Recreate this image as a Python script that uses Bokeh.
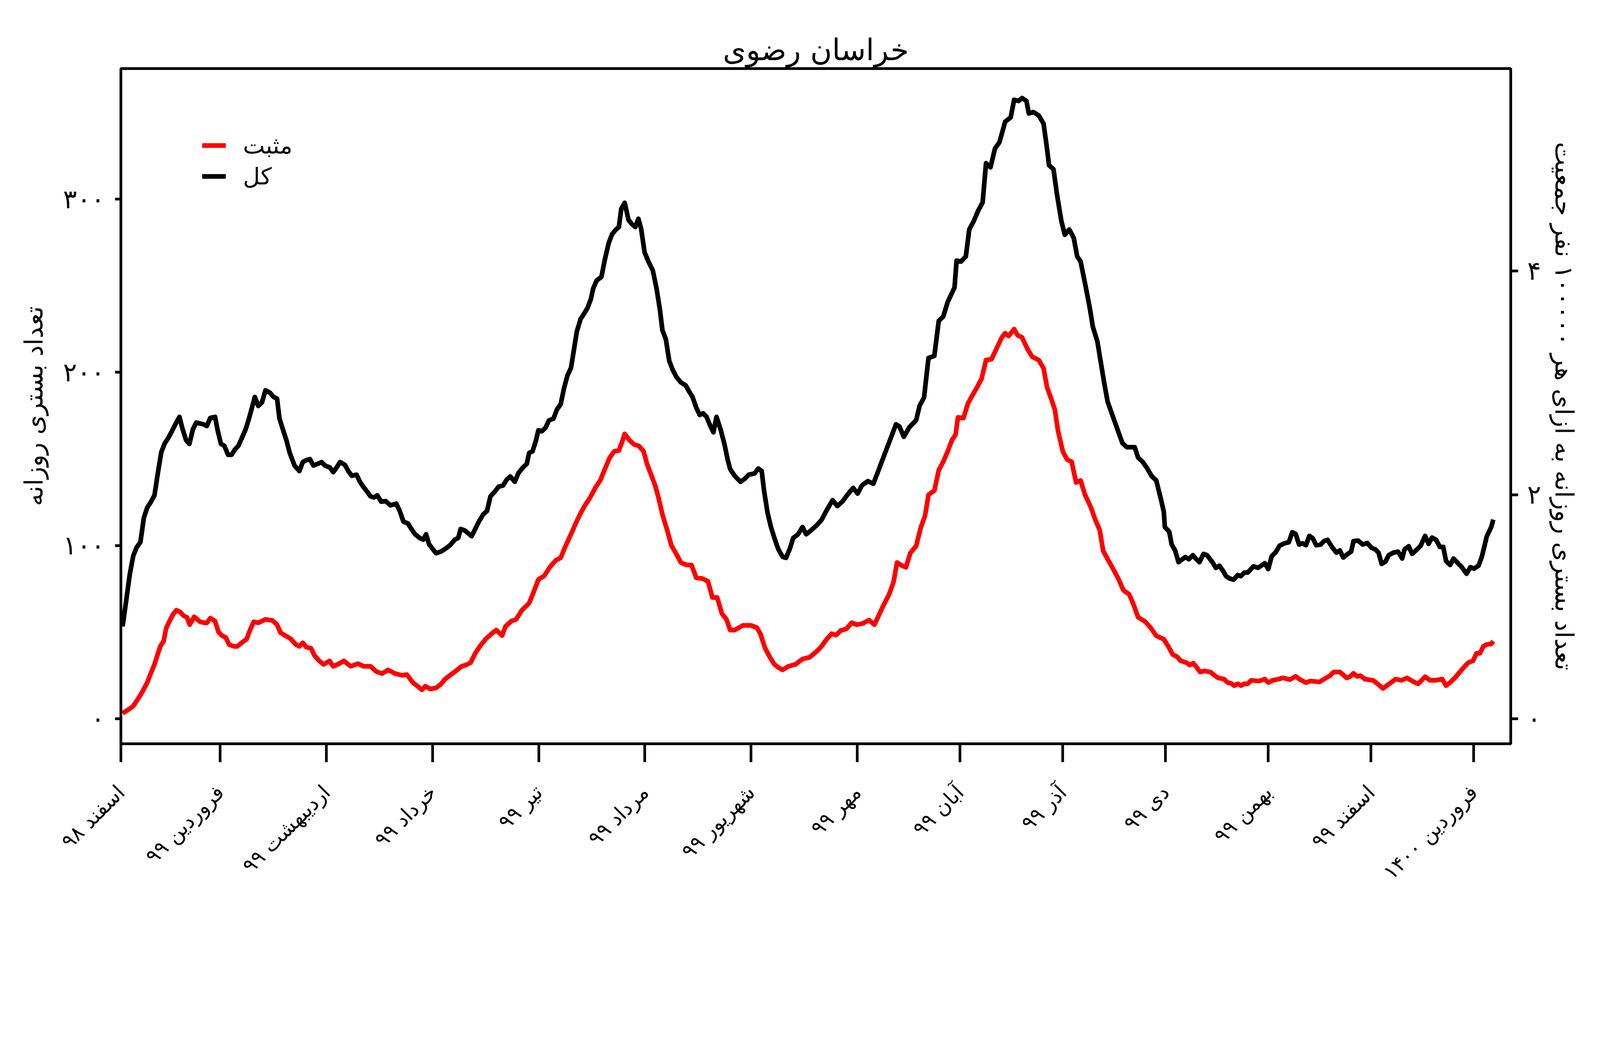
import math
from bokeh.plotting import figure
from bokeh.models import Range1d, LinearAxis, FixedTicker, Legend, LegendItem
from bokeh.embed import file_html
from bokeh.resources import INLINE

# ---- data (days since 1 Esfand 1398 = 2020-02-20) ----
total_day = [0.5, 1.6, 2.6, 3.6, 4.6, 5.7, 6.7, 7.7, 8.7, 9.8, 10.8, 11.8, 12.8, 13.8, 14.9, 15.9, 17.1, 17.9, 19, 20,
             21, 22, 24.1, 25.1, 26.1, 27.5, 28.2, 29.2, 30.2, 31.3, 32.3, 33.3, 34.3, 35.3, 36.4, 37.4, 38.4, 39.1, 40.1, 41.2,
             42.2, 43.5, 44.6, 45.6, 46.3, 47.3, 48.3, 49.3, 50.7, 52.1, 53.1, 54.1, 55.2, 56.2, 57.5, 58.6, 59.6, 61, 62, 63,
             64, 65.4, 66.4, 67.4, 68.8, 69.8, 70.9, 71.9, 72.9, 73.9, 74.9, 76, 77.3, 78.7, 80.4, 81.4, 82.5, 83.8, 84.8, 85.9,
             87.2, 88.3, 89.1, 90, 91, 92, 93.4, 94.7, 96.1, 97.5, 98.5, 99.2, 100.5, 102.4, 104.5, 105.8, 106.9, 107.9, 109.3, 110.3,
             111.6, 112.7, 113.7, 115, 116.1, 117.4, 118.5, 119.2, 120.2, 121.2, 121.9, 122.9, 124, 125, 126.3, 127.3, 128.4, 129.4, 130.4, 131.4,
             132.1, 133.1, 134.2, 135.2, 136.2, 137.2, 137.9, 138.9, 140.3, 141.3, 142.4, 143.4, 144.4, 145.4, 146.1, 147.1, 148.2, 149.2, 150.2, 151.1,
             151.9, 152.9, 154, 155.3, 156.4, 157.4, 158.1, 159.1, 160.1, 161.1, 162.2, 163.5, 164.9, 165.9, 166.9, 168, 169, 170, 171, 172.1,
             173, 173.9, 175.1, 176.2, 177.2, 177.9, 179.2, 180.9, 182.3, 183.3, 185, 186.1, 187.1, 187.8, 188.8, 189.8, 190.8, 191.9, 193.2, 194.2,
             195.3, 196.3, 197.7, 199, 200.1, 201.4, 203.2, 204.6, 206.2, 207.8, 209.2, 210.8, 212.1, 213.8, 215.1, 216.4, 218.1, 219.7, 221, 222.6,
             224.6, 226.3, 227.3, 228.6, 230.2, 232.2, 233.2, 234.5, 235.8, 237.5, 238.8, 240.1, 241.4, 243.4, 244, 245.3, 246.7, 247.7, 249, 250.3,
             251.6, 252.6, 253.9, 255.2, 256.5, 258.2, 259.8, 260.8, 262.1, 263.1, 264.4, 265.1, 266.4, 268, 269.4, 270.4, 271, 272.3, 273.3, 274.6,
             275.6, 276.9, 278.2, 279.2, 280.2, 281.5, 282.8, 283.8, 285.1, 286.1, 287.1, 288.1, 289.8, 291.1, 292.4, 293.7, 296, 297, 298.3, 299.6,
             301, 302.3, 303.8, 304.5, 304.8, 306.1, 306.8, 307.8, 308.8, 310.8, 311.8, 313, 313.8, 314.9, 316.1, 317.1, 318.7, 319.7, 320.7, 321.7,
             322.7, 323.7, 324.9, 326.1, 327, 328, 329, 330.7, 332, 334, 335, 336, 337.3, 338.3, 339.7, 341, 342, 343, 344, 345,
             346, 347, 348, 349, 350.3, 351.3, 352.3, 353.6, 354.9, 355.9, 356.9, 358.2, 359.2, 359.9, 361.2, 362.6, 363.9, 365.2, 366.2, 367.2,
             368.1, 369.2, 370.2, 371.5, 372.9, 374.1, 374.8, 376, 377, 378.5, 379.5, 380.8, 381.8, 382.8, 384, 385.1, 386.1, 386.9, 388.1, 389.1,
             390.2, 391.4, 392.9, 394, 395.1, 396.4, 397.4, 398.8, 400.1, 400.7]
total_val = [53.3, 69, 83.5, 94, 99, 102, 116, 122, 125, 129, 142, 154, 159, 162, 166, 170, 174.3, 168, 161, 158.7,
             167, 171, 170, 169, 173.7, 174.3, 167, 158.7, 157.6, 152.4, 152.4, 155.5, 157.6, 162, 167, 173.3, 180.6, 185.8, 180.6, 182.7,
             189.6, 188.3, 185.8, 184.8, 173.3, 167, 161, 153.5, 146.2, 143, 148.2, 149.3, 149.9, 146.2, 147.2, 148.2, 146.2, 145.1, 142.4, 145.1,
             148.2, 146.6, 143, 140.3, 140.9, 136.8, 133.6, 131.1, 128.4, 127.8, 129, 125.3, 125.7, 123.2, 124.2, 120, 113.8, 112.8, 109.6, 106.5,
             104.4, 103.4, 106.5, 100.7, 98.1, 95.6, 96.5, 98.1, 100.2, 103.4, 104.4, 109.6, 108.6, 105.4, 113.8, 118, 120, 128.4, 131.5, 134,
             134.7, 138.2, 139.9, 136.8, 142, 145.1, 147.2, 153.5, 154.5, 160.8, 166.6, 166, 168.1, 172.3, 173.3, 178.5, 181.6, 191, 198.3, 202.5,
             210.9, 223.4, 230.7, 233.8, 237, 242.2, 248.4, 253, 255.1, 265.1, 274.5, 279.7, 282.2, 283.9, 294.4, 297.9, 288.1, 285.6, 283.9, 288.7,
             282.9, 269.3, 264.1, 258.9, 248.4, 235.9, 224.4, 219.2, 206.7, 201.5, 197.3, 194.2, 192.5, 189, 185.8, 179.6, 175.4, 176.4, 174.3, 169.1,
             165.4, 174.3, 167, 158.7, 149.3, 144.1, 140.3, 136.8, 138.8, 140.9, 141.6, 144.5, 143, 131.5, 119, 110.7, 104.4, 98.1, 93.5, 92.9,
             98.1, 104.4, 106.5, 110.7, 106.5, 108.6, 111.8, 114.9, 120.9, 126.2, 122.8, 125.7, 129.3, 133.3, 130, 134.8, 137.2, 135.7, 142.4, 150.8,
             161.1, 170, 168.8, 162.8, 168.3, 172.4, 180.7, 185.5, 208.3, 209.5, 229.8, 232.2, 240.6, 249, 264.5, 264, 266.9, 282.5, 287.3, 293.3,
             298.1, 320.8, 318.4, 329.2, 332.8, 344.8, 347.2, 357.4, 356.7, 358.4, 356.7, 349.5, 350.3, 348.3, 343.6, 329.2, 319.6, 317.2, 302.9, 287.3,
             279.4, 282.5, 277.7, 267, 264.1, 251.4, 238.2, 226.2, 217.9, 205.9, 193.9, 183.1, 173.6, 166.4, 159.2, 156.8, 156.8, 150.8, 148.4, 144.8,
             140, 137.6, 125.6, 119.5, 110.7, 108, 100.6, 97.2, 90.4, 93.4, 92.1, 94.5, 92.5, 90.4, 95.2, 94.5, 90.4, 87.1, 88.4, 85.7,
             82.3, 81, 80.3, 83, 82.3, 84.4, 84.4, 88, 87.1, 89.8, 86.4, 93.8, 96.5, 99.9, 101.3, 101.9, 107.7, 106.7, 100.6, 101.3,
             100.2, 105.6, 104.2, 100.2, 100.6, 102.6, 103.3, 99.2, 95.9, 97.2, 93.1, 95.2, 96.5, 102.6, 102.9, 100.6, 101.5, 98.6, 97.9, 95.9,
             89.4, 90.7, 94.5, 95.9, 96.5, 92.5, 97.9, 99.6, 95.2, 97.9, 99.9, 105.6, 101, 104.6, 103.3, 99.2, 99.2, 91.1, 88.8, 92.5,
             90.2, 87.8, 83.7, 87.5, 86.7, 88.4, 93.8, 105.3, 110.7, 115]

positive_day = [0.5, 2.2, 3.6, 5, 6.3, 7.7, 8.7, 9.8, 10.8, 11.5, 12.5, 13.2, 14.2, 15.2, 16.2, 17.3, 18.3, 19.3, 20.1, 21.4,
                23.1, 24.4, 25.1, 26.1, 27.5, 28.5, 29.5, 30.6, 31.6, 33, 34, 35, 36.7, 37.7, 38.8, 40.1, 42.2, 44.2, 45.6, 46.6,
                48, 49.7, 51.1, 52.1, 53.1, 54.1, 55.5, 56.5, 57.9, 59.2, 60.9, 62, 63.7, 65.1, 67.1, 69.2, 70.9, 72.9, 74.6, 76.3,
                78, 80.1, 82.1, 83.5, 85.2, 86.6, 87.9, 88.9, 90.3, 92, 93.4, 94.7, 96.1, 97.8, 99.5, 100.7, 102.1, 103.4, 104.8, 106.5,
                108.2, 109.6, 111.3, 112.3, 114, 115.4, 117.1, 119.2, 120.5, 121.9, 123.6, 125.3, 127, 128.4, 129.7, 131.4, 132.8, 134.2, 135.5, 136.9,
                138.6, 140, 141.3, 142.7, 144.1, 145.4, 146.5, 147.1, 148.5, 149.9, 151.2, 152.6, 153.6, 155, 156, 157, 158.1, 159.4, 160.7, 162.2,
                163.5, 165.2, 166.6, 168, 169.7, 171.4, 172.7, 174.1, 175.5, 176.8, 177.9, 179.2, 181.6, 184, 185.7, 186.7, 188.1, 189.5, 190.8, 192.2,
                193.2, 194.9, 197, 199, 201.1, 203.2, 204.6, 205.9, 207.5, 208.8, 210.2, 211.8, 213.4, 214.8, 216.7, 218.4, 220, 221.3, 222.6, 224.3,
                225.6, 226.6, 227.9, 229.2, 230.5, 232.2, 233.5, 234.8, 235.8, 237.5, 238.8, 240.1, 241.4, 242.7, 243.7, 244.4, 246, 247.3, 248.6, 250,
                251.3, 252.6, 254.2, 255.5, 257.2, 258.2, 259.2, 260.8, 261.8, 263.1, 264.8, 266.1, 268, 269.4, 270.4, 271.7, 272.7, 273.6, 275, 276.3,
                277.6, 278.9, 280.2, 281.5, 283.2, 284.5, 285.8, 286.8, 288.1, 289.8, 291.4, 292.7, 294.4, 295.7, 297, 299, 300.6, 302.3, 304.5, 305.8,
                307.1, 308.4, 309.4, 311.1, 312.1, 313.1, 314.1, 315.1, 316.4, 318.1, 319.4, 320.4, 322.1, 323.1, 324.1, 325.1, 326.1, 327, 328, 329,
                330, 332.3, 334, 335, 336.3, 338, 339.3, 341.3, 343, 344.3, 346, 347.3, 350, 351.3, 353, 354.1, 355.9, 357.9, 358.9, 359.9,
                360.9, 361.9, 363.2, 365.6, 366.9, 368.5, 370.2, 372.2, 373.9, 375.5, 377.2, 378.8, 380.8, 382.2, 383.8, 385.8, 386.9, 388.1, 389.5, 390.8,
                392.1, 393.4, 394.8, 395.8, 396.8, 397.8, 398.8, 400.1, 400.7]
positive_val = [3.2, 5.3, 7.3, 11.5, 15.7, 21, 26.1, 31.4, 37.6, 41.8, 44.9, 52.2, 56.4, 60.2, 62.7, 61.6, 59.5, 58.5, 54.3, 58.9,
                56, 55.4, 55.4, 58.1, 56.4, 50.1, 48, 47, 42.8, 41.8, 41.8, 43.5, 46, 51.2, 56, 55.4, 57.4, 56.8, 54.3, 49.7,
                48, 46, 42.8, 41.8, 43.9, 41.4, 40.7, 36.6, 33.4, 31.4, 33.4, 30.3, 31.8, 33.4, 30.3, 31.8, 30.3, 30.3, 27.2, 26.1,
                28.2, 26.1, 25.1, 25.5, 21, 18.8, 16.7, 18.8, 17.2, 17.8, 19.9, 23, 25.1, 27.6, 30.3, 31, 32.4, 37.6, 41.8, 46,
                49.1, 51.2, 48, 53.3, 56.4, 57.4, 62.7, 66.8, 73.1, 80.4, 82.5, 87.7, 91.5, 92.9, 99.2, 106.5, 112.8, 118.6, 123.2, 127.4,
                133.6, 137.8, 144.1, 150.7, 154.5, 154.9, 160.8, 164.5, 160.8, 158.3, 157.6, 154.5, 147.2, 139.9, 134.7, 127.4, 118, 109.6, 100.2, 95,
                90.2, 88.8, 88.8, 81.4, 81, 79.4, 70, 70, 60.6, 57.4, 51.2, 51.2, 53.9, 53.9, 52.6, 49.1, 40.7, 35.5, 31.4, 29.3,
                28.2, 30.3, 31.4, 34.5, 35.5, 39, 41.9, 45.5, 49.1, 48.3, 51, 51.9, 55.5, 54.3, 55.1, 57, 54.3, 59.8, 65.3, 71.8,
                79, 90.2, 88.6, 87.4, 95.7, 99.8, 110.1, 117.3, 129.3, 131.7, 143.6, 148.4, 154.4, 161.1, 164, 174, 173.6, 182, 186.7, 191.5,
                196.3, 207.1, 207.6, 213.1, 220.2, 222.6, 221, 225, 221.4, 220.2, 213.1, 209, 207.1, 202.3, 191.5, 184.3, 178.4, 166.4, 154.4, 149.6,
                148.4, 136.4, 137.6, 129.3, 122.1, 114.9, 108.9, 96.9, 92.2, 86.2, 80.2, 74.2, 71.8, 65.8, 58.6, 56.2, 52.7, 47.9, 45.9, 41.8,
                37.1, 35.8, 33.5, 32.4, 31, 32.1, 29.7, 27, 27.6, 27, 24.9, 23.6, 22.9, 20.9, 20.5, 19.1, 20.2, 19.1, 20.2, 20.2,
                22.2, 21.8, 22.9, 20.9, 22.2, 22.9, 23.6, 22.6, 24.5, 22.6, 20.9, 21.8, 21.3, 22.9, 24.9, 27, 27, 23.6, 24.3, 26.3,
                24.5, 24.9, 22.9, 22.2, 20.2, 17.5, 20, 22.9, 22.2, 23.6, 21.6, 20.2, 24.3, 22.2, 22.2, 22.9, 19.1, 20.9, 23.6, 26.7,
                29.7, 32.4, 33.5, 37.8, 37.8, 41.8, 42.9, 43.2, 44.8]

month_ticks = [0, 29, 60, 91, 122, 153, 184, 215, 245, 275, 305, 335, 365, 395]
month_labels = ["اسفند ۹۸", "فروردین ۹۹", "اردیبهشت ۹۹", "خرداد ۹۹", "تیر ۹۹", "مرداد ۹۹", "شهریور ۹۹",
                "مهر ۹۹", "آبان ۹۹", "آذر ۹۹", "دی ۹۹", "بهمن ۹۹", "اسفند ۹۹", "فروردین ۱۴۰۰"]
left_ticks = [0, 100, 200, 300]
left_labels = ["۰", "۱۰۰", "۲۰۰", "۳۰۰"]
right_ticks = [0, 2, 4]
right_labels = ["۰", "۲", "۴"]
per100k_factor = 0.01547   # daily count -> per 100000 population

title_text = "خراسان رضوی"
left_title = "تعداد بستری روزانه"
right_title = "تعداد بستری روزانه به ازای هر ۱۰۰۰۰۰ نفر جمعیت"
legend_positive = "مثبت"
legend_total = "کل"

FONT = "DejaVu Sans"
S = 4096 / 4800          # css px per reference pixel

def px(v):
    return "%.1fpx" % (v * S)

y_lo, y_hi = -14.44, 375.4

W, H = 4080, 2288
frame_l = 371 * S - 8
frame_r = 4541 * S - 8
frame_t = 215 * S - 8
frame_b = 2239 * S - 8

p = figure(width=W, height=H, output_backend="svg", toolbar_location=None,
           x_range=Range1d(0, 405.8), y_range=Range1d(y_lo, y_hi))
p.min_border_left = int(round(frame_l))
p.min_border_right = int(round(W - frame_r))
p.min_border_top = int(round(frame_t))
p.min_border_bottom = int(round(H - frame_b))
p.background_fill_color = "white"
p.border_fill_color = "white"
p.xgrid.visible = False
p.ygrid.visible = False
p.outline_line_color = "black"
p.outline_line_width = 8 * S

p.title.text = title_text
p.title.align = "center"
p.title.text_font = FONT
p.title.text_font_size = px(89)
p.title.text_font_style = "normal"
p.title.text_color = "black"
p.title.standoff = 8 * S

p.extra_y_ranges = {"per100k": Range1d(y_lo * per100k_factor, y_hi * per100k_factor)}

def style_axis(ax, tick_out, label_size):
    ax.axis_line_color = "black"
    ax.axis_line_width = 8 * S
    ax.major_tick_line_color = "black"
    ax.major_tick_line_width = 8 * S
    ax.major_tick_in = 0
    ax.major_tick_out = int(round(tick_out * S))
    ax.minor_tick_line_color = None
    ax.major_label_text_font = FONT
    ax.major_label_text_font_size = px(label_size)
    ax.major_label_text_color = "black"
    ax.axis_label_text_font = FONT
    ax.axis_label_text_font_style = "normal"
    ax.axis_label_text_font_size = px(75)
    ax.axis_label_text_color = "black"

xa = p.xaxis[0]
xa.ticker = FixedTicker(ticks=month_ticks)
xa.major_label_overrides = {t: l for t, l in zip(month_ticks, month_labels)}
style_axis(xa, 55, 62)
xa.major_label_orientation = math.pi / 4
xa.major_label_standoff = int(round(80 * S))

ya = p.yaxis[0]
ya.ticker = FixedTicker(ticks=left_ticks)
ya.major_label_overrides = {t: l for t, l in zip(left_ticks, left_labels)}
style_axis(ya, 18, 78)
ya.major_label_standoff = int(round(30 * S))
ya.axis_label = left_title
ya.axis_label_standoff = int(round(40 * S))

ra = LinearAxis(y_range_name="per100k", ticker=FixedTicker(ticks=right_ticks))
ra.major_label_overrides = {t: l for t, l in zip(right_ticks, right_labels)}
style_axis(ra, 22, 78)
ra.major_label_standoff = int(round(27 * S))
ra.axis_label = right_title
ra.axis_label_standoff = int(round(22 * S))
p.add_layout(ra, "right")

r_pos = p.line(positive_day, positive_val, line_color="#ff0000", line_width=14 * S, line_join="round")
r_tot = p.line(total_day, total_val, line_color="black", line_width=14 * S, line_join="round")

legend = Legend(items=[LegendItem(label=legend_positive, renderers=[r_pos]),
                       LegendItem(label=legend_total, renderers=[r_tot])],
                location=(int(round(244 * S)), int(round(1660 * S))))
legend.background_fill_alpha = 0
legend.border_line_color = None
legend.padding = 0
legend.margin = 0
legend.spacing = int(round(10 * S))
legend.glyph_width = int(round(72 * S))
legend.glyph_height = int(round(82 * S))
legend.label_height = int(round(82 * S))
legend.label_standoff = int(round(51 * S))
legend.label_text_font = FONT
legend.label_text_font_size = px(70)
legend.label_text_color = "black"
p.add_layout(legend)

open("out.html", "w").write(file_html(p, INLINE))
